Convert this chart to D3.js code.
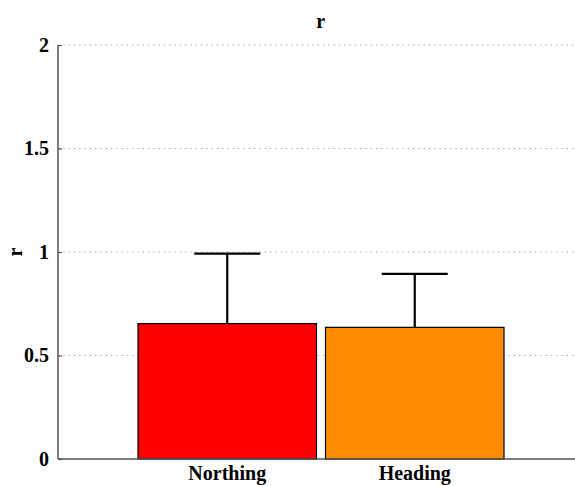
<!DOCTYPE html>
<html><head><meta charset="utf-8">
<script src="https://cdn.jsdelivr.net/npm/d3@7"></script>
<style>body{margin:0;background:#fff}svg{display:block}text{font-family:"Liberation Serif","Times New Roman",serif;font-weight:bold}</style>
</head><body>
<script>
const categories = ["Northing", "Heading"];
const values = [0.654, 0.636];
const errors = [0.338, 0.258];
const colors = ["#ff0000", "#ff8c00"];
const yTicks = [0, 0.5, 1, 1.5, 2];
const yTickLabels = ["0", "0.5", "1", "1.5", "2"];
const titleText = "r";
const yLabelText = "r";

const W = 575, H = 486;
const mLeft = 58, mTop = 45, mBottom = 459, mRight = 583.5;
const svg = d3.select("body").append("svg").attr("width", W).attr("height", H);

const y = d3.scaleLinear().domain([0, 2]).range([mBottom, mTop]);
const x = d3.scaleBand().domain(categories).range([133.5, 508.5]).paddingInner(0.048).paddingOuter(0.024);

// grid
svg.append("g").selectAll("line").data(yTicks.filter(d => d > 0)).join("line")
  .attr("x1", mLeft).attr("x2", mRight).attr("y1", d => y(d)).attr("y2", d => y(d))
  .attr("stroke", "#9a9a9a").attr("stroke-width", 1).attr("stroke-dasharray", "1.2,4.1");

// bars
svg.append("g").selectAll("rect").data(categories).join("rect")
  .attr("x", d => x(d)).attr("width", x.bandwidth())
  .attr("y", (d, i) => y(values[i])).attr("height", (d, i) => y(0) - y(values[i]))
  .attr("fill", (d, i) => colors[i]).attr("stroke", "#000").attr("stroke-width", 1.2);

// error bars
const eg = svg.append("g").attr("stroke", "#000").attr("stroke-width", 2.2);
categories.forEach((c, i) => {
  const cx = x(c) + x.bandwidth() / 2;
  eg.append("line").attr("x1", cx).attr("x2", cx).attr("y1", y(values[i])).attr("y2", y(values[i] + errors[i]));
  eg.append("line").attr("x1", cx - 33).attr("x2", cx + 33).attr("y1", y(values[i] + errors[i])).attr("y2", y(values[i] + errors[i]));
});

// axes lines
svg.append("line").attr("x1", mLeft).attr("x2", mLeft).attr("y1", mTop).attr("y2", mBottom)
  .attr("stroke", "#555").attr("stroke-width", 1.5);
svg.append("line").attr("x1", mLeft).attr("x2", mRight).attr("y1", mBottom).attr("y2", mBottom)
  .attr("stroke", "#555").attr("stroke-width", 1.5);

// y ticks
const yAxis = d3.axisLeft(y).tickValues(yTicks).tickFormat((d, i) => yTickLabels[i]).tickSizeInner(-4).tickSizeOuter(0).tickPadding(9);
const ga = svg.append("g").attr("transform", `translate(${mLeft},0)`).call(yAxis);
ga.select(".domain").remove();
ga.selectAll(".tick line").attr("stroke", "#555").attr("stroke-width", 1.2);
ga.selectAll("text").attr("font-size", 20).attr("fill", "#000")
  .style("font-family", '"Liberation Serif",serif').style("font-weight", "bold");

// x labels
const xAxis = d3.axisBottom(x).tickSize(0).tickPadding(7);
const gx = svg.append("g").attr("transform", `translate(0,${mBottom})`).call(xAxis);
gx.select(".domain").remove();
gx.selectAll("text").attr("font-size", 20).attr("fill", "#000")
  .style("font-family", '"Liberation Serif",serif').style("font-weight", "bold");

// title
svg.append("text").attr("x", (mLeft + mRight) / 2).attr("y", 28).attr("text-anchor", "middle")
  .attr("font-size", 20).text(titleText);
// y label
svg.append("text").attr("transform", "translate(22,252) rotate(-90)").attr("text-anchor", "middle")
  .attr("font-size", 20).text(yLabelText);
</script>
</body></html>
